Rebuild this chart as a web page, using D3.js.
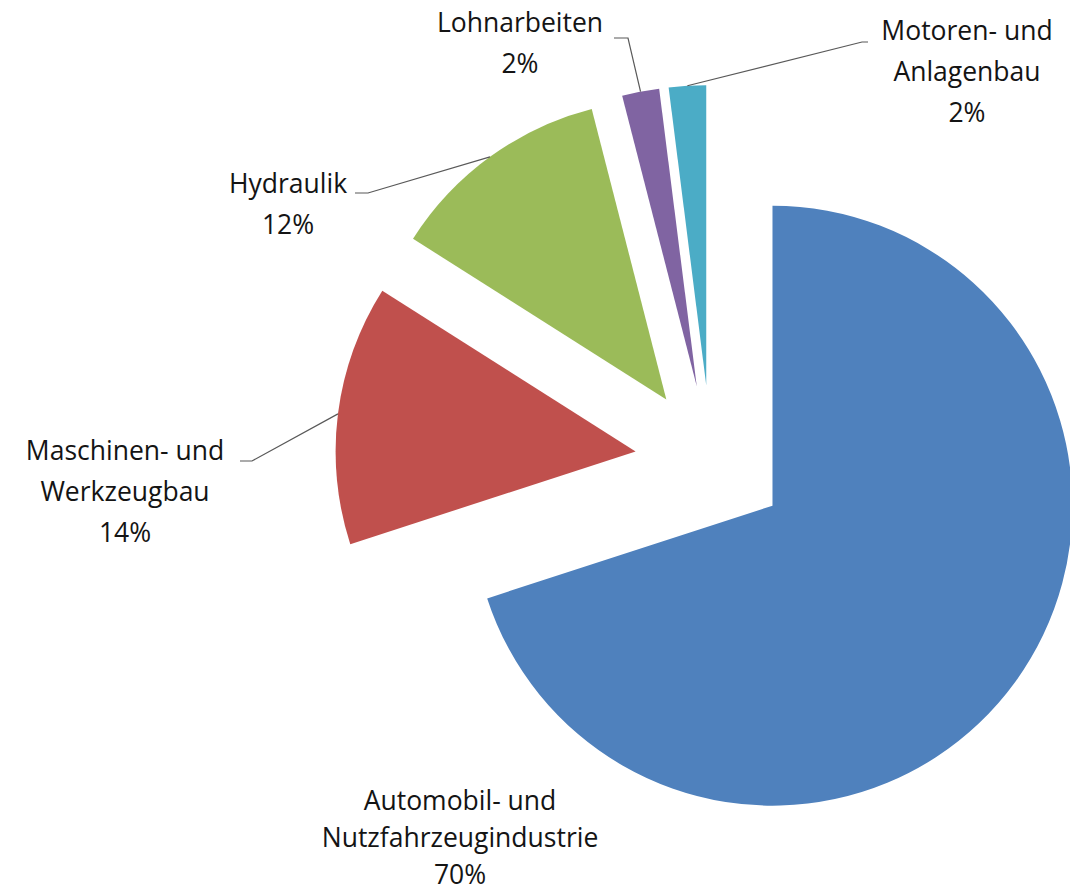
<!DOCTYPE html>
<html>
<head>
<meta charset="utf-8">
<script src="https://cdn.jsdelivr.net/npm/d3@7"></script>
<style>
  body { margin: 0; background: #fff; }
  text { font-family: "Open Sans", sans-serif; fill: #141414; }
</style>
</head>
<body>
<svg id="chart" width="1070" height="893"></svg>
<script>
// data
var categories = ["Automobil- und Nutzfahrzeugindustrie", "Maschinen- und Werkzeugbau", "Hydraulik", "Lohnarbeiten", "Motoren- und Anlagenbau"];
var labelLines = [["Automobil- und", "Nutzfahrzeugindustrie"], ["Maschinen- und", "Werkzeugbau"], ["Hydraulik"], ["Lohnarbeiten"], ["Motoren- und", "Anlagenbau"]];
var shares = [70, 14, 12, 2, 2];
var colors = ["#4f81bd", "#c0504d", "#9bbb59", "#8064a2", "#4bacc6"];

// layout
var cx = 711, cy = 461, radius = 300, explode = 76;
// label centre x, first baseline y, line gap, leader elbow (or null)
var labelPos = [
  {x: 460, y: 810, gap: 37, elbow: null},
  {x: 125, y: 460, gap: 41, elbow: [[240, 461], [252, 461]]},
  {x: 288, y: 193, gap: 41, elbow: [[355, 193], [368, 193]]},
  {x: 520, y: 32, gap: 41, elbow: [[614, 38], [628, 38]]},
  {x: 967, y: 40, gap: 41, elbow: [[868, 42], [862, 42]]}
];

var svg = d3.select("#chart");
var g = svg.append("g").attr("transform", "translate(" + cx + "," + cy + ")");

var pie = d3.pie().sort(null).value(d => d)(shares);
var arc = d3.arc().innerRadius(0).outerRadius(radius);
var edge = d3.arc().innerRadius(radius).outerRadius(radius);

function offset(d) {
  var a = (d.startAngle + d.endAngle) / 2;
  return [explode * Math.sin(a), -explode * Math.cos(a)];
}

g.selectAll("path.slice")
  .data(pie)
  .enter().append("path")
  .attr("class", "slice")
  .attr("transform", d => "translate(" + offset(d) + ")")
  .attr("d", arc)
  .attr("fill", (d, i) => colors[i]);

// leader lines
pie.forEach((d, i) => {
  var p = labelPos[i];
  if (!p.elbow) return;
  var o = offset(d);
  var c = edge.centroid(d);
  var end = [cx + o[0] + c[0], cy + o[1] + c[1]];
  svg.append("path")
    .attr("d", d3.line()([p.elbow[0], p.elbow[1], end]))
    .attr("fill", "none")
    .attr("stroke", "#595959")
    .attr("stroke-width", 1.2);
});

// labels
pie.forEach((d, i) => {
  var p = labelPos[i];
  var lines = labelLines[i].concat([shares[i] + "%"]);
  var t = svg.append("text")
    .attr("text-anchor", "middle")
    .attr("font-size", 26.5);
  lines.forEach((s, k) => {
    t.append("tspan").attr("x", p.x).attr("y", p.y + k * p.gap).text(s);
  });
});
</script>
</body>
</html>
